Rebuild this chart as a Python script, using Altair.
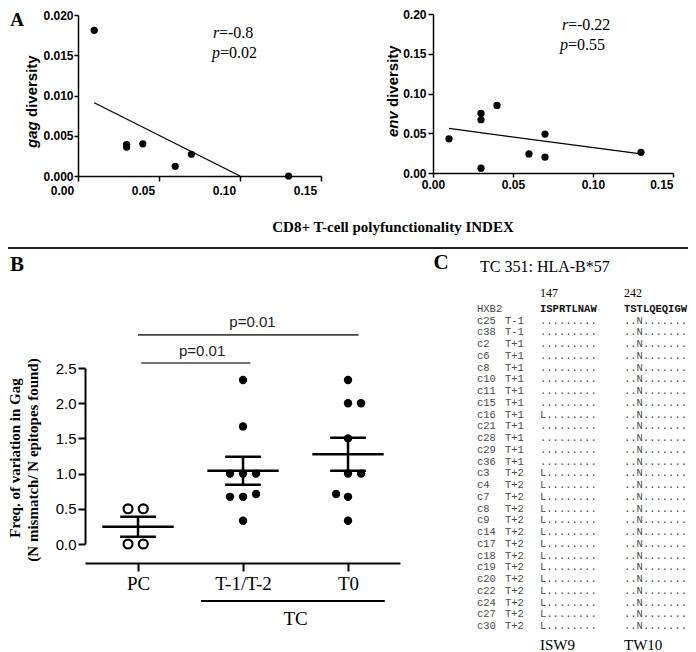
import altair as alt
import pandas as pd

# ================= data =================
# Panel A (left): gag diversity vs CD8+ T-cell polyfunctionality index
gag_index = [0.01, 0.03, 0.03, 0.04, 0.06, 0.07, 0.13]
gag_diversity = [0.0181, 0.0039, 0.0036, 0.0040, 0.0012, 0.0027, 0.0000]
gag_fit_index = [0.01, 0.10]
gag_fit_diversity = [0.0091, 0.0]
# Panel A (right): env diversity
env_index = [0.01, 0.03, 0.03, 0.03, 0.04, 0.06, 0.07, 0.07, 0.13]
env_diversity = [0.043, 0.075, 0.067, 0.006, 0.085, 0.024, 0.049, 0.020, 0.026]
env_fit_index = [0.01, 0.13]
env_fit_diversity = [0.056, 0.024]
index_ticks = [0.0, 0.05, 0.10, 0.15]
gag_ticks = [0.0, 0.005, 0.010, 0.015, 0.020]
env_ticks = [0.0, 0.05, 0.10, 0.15, 0.20]

# Panel B: frequency of variation in Gag
groups = ["PC", "T-1/T-2", "T0"]
pc_values = [0.5, 0.5, 0.0, 0.0]
pc_jitter = [-0.095, 0.05, -0.095, 0.05]
t12_values = [2.33, 1.67, 1.0, 1.0, 1.0, 0.67, 0.67, 0.71, 0.33]
t12_jitter = [0, 0, -0.124, 0, 0.124, -0.124, 0, 0.124, 0]
t0_values = [2.33, 2.0, 2.0, 1.5, 1.0, 1.0, 0.71, 0.67, 0.33]
t0_jitter = [0, 0, 0.124, 0, 0, 0.124, -0.114, 0, 0]
group_means = [0.245, 1.04, 1.275]
group_sems = [0.143, 0.20, 0.235]
b_ticks = [0.0, 0.5, 1.0, 1.5, 2.0, 2.5]
sig_from = [0.0, 0.03]
sig_to = [2.10, 1.07]
sig_level = [2.97, 2.57]
sig_label = ["p=0.01", "p=0.01"]
sig_label_x = [1.09, 0.61]
sig_label_y = [3.16, 2.74]
tc_from, tc_to, tc_level = [0.6], [2.35], [-0.81]
tc_label, tc_label_x, tc_label_y = ["TC"], [1.5], [-1.06]

# Panel C: alignment
hxb2 = ["HXB2", "ISPRTLNAW", "TSTLQEQIGW"]
clones = ["c25", "c38", "c2", "c6", "c8", "c10", "c11", "c15", "c16", "c21", "c28", "c29", "c36",
          "c3", "c4", "c7", "c8", "c9", "c14", "c17", "c18", "c19", "c20", "c22", "c24", "c27", "c30"]
visits = ["T-1"] * 2 + ["T+1"] * 11 + ["T+2"] * 14
isw9_seq = ["........."] * 8 + ["L........"] + ["........."] * 4 + ["L........"] * 14
tw10_seq = ["..N......."] * 27

# ================= layout helpers =================
W, H = 680, 644
M = 8  # page margin


def px(v):
    return v - M


def py(v):
    return v - M


SANS = "Liberation Sans"
SERIF = "Liberation Serif"
MONO = "Liberation Mono"


def make_axis(orient, offset, values, fmt, size, bold, tick, pad, width, font=SANS, **kw):
    return alt.Axis(orient=orient, offset=offset, values=values, format=fmt, title=None, grid=False,
                    domainColor="black", tickColor="black", labelColor="black",
                    domainWidth=width, tickWidth=width, tickSize=tick, labelPadding=pad,
                    labelFont=font, labelFontSize=size,
                    labelFontWeight="bold" if bold else "normal",
                    labelOverlap=False, labelFlush=False, **kw)


def txt(text, x, y, size, font=SERIF, weight="normal", style="normal", angle=0,
        align="center", color="black"):
    return alt.Chart(pd.DataFrame({"t": [text]})).mark_text(
        font=font, fontSize=size, fontWeight=weight, fontStyle=style, angle=angle,
        align=align, baseline="middle", color=color
    ).encode(text="t:N", x=alt.value(px(x)), y=alt.value(py(y)))


layers = []

# ================= Panel A left =================
sx1 = alt.Scale(domain=[0, 0.15], range=[px(78), px(321)], nice=False, zero=False)
sy1 = alt.Scale(domain=[0, 0.02], range=[py(176), py(15)], nice=False, zero=False)
ax1 = make_axis("bottom", py(176) - H, index_ticks, ".2f", 12, True, 5, 4, 1.5, labelOffset=-16)
ay1 = make_axis("left", -px(78), gag_ticks, ".3f", 12, True, 4, 1, 1.5)
gag_df = pd.DataFrame({"idx": gag_index, "div": gag_diversity})
gag_fit_df = pd.DataFrame({"idx": gag_fit_index, "div": gag_fit_diversity})
layers += [
    alt.Chart(gag_fit_df).mark_line(color="black", strokeWidth=1.3).encode(
        x=alt.X("idx:Q", scale=sx1, axis=None), y=alt.Y("div:Q", scale=sy1, axis=None)),
    alt.Chart(gag_df).mark_circle(size=52, color="black", opacity=1).encode(
        x=alt.X("idx:Q", scale=sx1, axis=ax1), y=alt.Y("div:Q", scale=sy1, axis=ay1)),
]

# ================= Panel A right =================
sx2 = alt.Scale(domain=[0, 0.15], range=[px(433), px(673)], nice=False, zero=False)
sy2 = alt.Scale(domain=[0, 0.2], range=[py(173), py(14)], nice=False, zero=False)
ax2 = make_axis("bottom", py(173) - H, index_ticks, ".2f", 12, True, 4, 2, 1.5,
                labelAlign={"condition": {"test": "datum.value >= 0.149", "value": "right"},
                            "value": "center"})
ay2 = make_axis("left", -px(433), env_ticks, ".2f", 12, True, 5, 2, 1.5)
env_df = pd.DataFrame({"idx": env_index, "div": env_diversity})
env_fit_df = pd.DataFrame({"idx": env_fit_index, "div": env_fit_diversity})
layers += [
    alt.Chart(env_fit_df).mark_line(color="black", strokeWidth=1.3).encode(
        x=alt.X("idx:Q", scale=sx2, axis=None), y=alt.Y("div:Q", scale=sy2, axis=None)),
    alt.Chart(env_df).mark_circle(size=52, color="black", opacity=1).encode(
        x=alt.X("idx:Q", scale=sx2, axis=ax2), y=alt.Y("div:Q", scale=sy2, axis=ay2)),
]

# ================= Panel B =================
sxb = alt.Scale(domain=[-0.505, 2.495], range=[px(85), px(400)], nice=False, zero=False)
syb = alt.Scale(domain=[0, 2.5], range=[py(544), py(368)], nice=False, zero=False)
label_expr = "[" + ",".join("'%s'" % g for g in groups) + "][datum.value]"
axb = make_axis("bottom", py(563) - H, [0, 1, 2], "d", 19, False, 8, 3, 2, font=SERIF,
                labelExpr=label_expr)
ayb = make_axis("left", -px(85), b_ticks, ".1f", 15, False, 7, 2, 2)

rows = []
for gi, (vals, jit) in enumerate([(pc_values, pc_jitter), (t12_values, t12_jitter),
                                  (t0_values, t0_jitter)]):
    for v, j in zip(vals, jit):
        rows.append({"g": gi, "pos": gi + j, "value": v})
b_pts = pd.DataFrame(rows)
b_stats = pd.DataFrame({"g": [0, 1, 2], "mean": group_means, "sem": group_sems})
sig_df = pd.DataFrame({"x1": sig_from, "x2": sig_to, "y": sig_level, "t": sig_label,
                       "tx": sig_label_x, "ty": sig_label_y})
tc_df = pd.DataFrame({"x1": tc_from, "x2": tc_to, "y": tc_level, "t": tc_label,
                      "tx": tc_label_x, "ty": tc_label_y})

stats = alt.Chart(b_stats).transform_calculate(
    m1="datum.g - 0.34", m2="datum.g + 0.34", c1="datum.g - 0.17", c2="datum.g + 0.17",
    lo="datum.mean - datum.sem", hi="datum.mean + datum.sem")

layers += [
    alt.Chart(b_pts).transform_filter("datum.g > 0").mark_point(
        filled=True, shape="circle", size=70, color="black", opacity=1).encode(
        x=alt.X("pos:Q", scale=sxb, axis=axb), y=alt.Y("value:Q", scale=syb, axis=ayb)),
    alt.Chart(b_pts).transform_filter("datum.g == 0").mark_point(
        filled=False, shape="circle", size=80, color="black", strokeWidth=2.2, opacity=1).encode(
        x=alt.X("pos:Q", scale=sxb, axis=None), y=alt.Y("value:Q", scale=syb, axis=None)),
    stats.mark_rule(strokeWidth=2.5, color="black").encode(
        x=alt.X("m1:Q", scale=sxb, axis=None), x2="m2:Q", y=alt.Y("mean:Q", scale=syb, axis=None)),
    stats.mark_rule(strokeWidth=2.5, color="black").encode(
        x=alt.X("c1:Q", scale=sxb, axis=None), x2="c2:Q", y=alt.Y("lo:Q", scale=syb, axis=None)),
    stats.mark_rule(strokeWidth=2.5, color="black").encode(
        x=alt.X("c1:Q", scale=sxb, axis=None), x2="c2:Q", y=alt.Y("hi:Q", scale=syb, axis=None)),
    stats.mark_rule(strokeWidth=2.5, color="black").encode(
        x=alt.X("g:Q", scale=sxb, axis=None), y=alt.Y("lo:Q", scale=syb, axis=None), y2="hi:Q"),
    alt.Chart(sig_df).mark_rule(strokeWidth=1.6, color="#444").encode(
        x=alt.X("x1:Q", scale=sxb, axis=None), x2="x2:Q", y=alt.Y("y:Q", scale=syb, axis=None)),
    alt.Chart(sig_df).mark_text(font=SANS, fontSize=15, color="#222", baseline="middle").encode(
        x=alt.X("tx:Q", scale=sxb, axis=None), y=alt.Y("ty:Q", scale=syb, axis=None), text="t:N"),
    alt.Chart(tc_df).mark_rule(strokeWidth=2, color="black").encode(
        x=alt.X("x1:Q", scale=sxb, axis=None), x2="x2:Q", y=alt.Y("y:Q", scale=syb, axis=None)),
    alt.Chart(tc_df).mark_text(font=SERIF, fontSize=19, color="black", baseline="middle").encode(
        x=alt.X("tx:Q", scale=sxb, axis=None), y=alt.Y("ty:Q", scale=syb, axis=None), text="t:N"),
]

# ================= Panel C =================
syc = alt.Scale(domain=[0, 27], range=[py(309), py(626)], nice=False, zero=False)
c_ref = pd.DataFrame({"row": [0], "clone": [hxb2[0]], "isw9": [hxb2[1]], "tw10": [hxb2[2]]})
c_rows = pd.DataFrame({"row": list(range(1, len(clones) + 1)), "clone": clones, "visit": visits,
                       "isw9": isw9_seq, "tw10": tw10_seq})


def ctext(df, field, x, bold=False, color="#4a4a4a"):
    return alt.Chart(df).mark_text(
        font=MONO, fontSize=10.5, fontWeight="bold" if bold else "normal",
        align="left", baseline="middle", color=color
    ).encode(x=alt.value(px(x)), y=alt.Y("row:Q", scale=syc, axis=None), text=f"{field}:N")


layers += [
    ctext(c_ref, "clone", 477),
    ctext(c_ref, "isw9", 540, bold=True, color="#111"),
    ctext(c_ref, "tw10", 624, bold=True, color="#111"),
    ctext(c_rows, "clone", 477),
    ctext(c_rows, "visit", 505),
    ctext(c_rows, "isw9", 540),
    ctext(c_rows, "tw10", 624),
]

# ================= annotations =================
separator = alt.Chart(pd.DataFrame({"k": [0]})).mark_rule(strokeWidth=2.2, color="#222").encode(
    x=alt.value(0), x2=alt.value(W), y=alt.value(py(248)))

layers += [
    separator,
    txt("A", 17, 20, 19, weight="bold"),
    txt("B", 17, 265, 21, weight="bold"),
    txt("C", 441, 263, 21, weight="bold"),
    txt("CD8+ T-cell polyfunctionality INDEX", 393, 227, 15, weight="bold"),
    txt("gag", 32, 148, 15, font=SANS, weight="bold", style="italic", angle=270, align="left"),
    txt("diversity", 32, 117, 15, font=SANS, weight="bold", angle=270, align="left"),
    txt("env", 393, 137, 15, font=SANS, weight="bold", style="italic", angle=270, align="left"),
    txt("diversity", 393, 107, 15, font=SANS, weight="bold", angle=270, align="left"),
    txt("r", 213, 33, 16, style="italic", align="left"),
    txt("=-0.8", 219, 33, 16, align="left"),
    txt("p", 212, 53, 16, style="italic", align="left"),
    txt("=0.02", 220, 53, 16, align="left"),
    txt("r", 562, 25, 16, style="italic", align="left"),
    txt("=-0.22", 568, 25, 16, align="left"),
    txt("p", 560, 45, 16, style="italic", align="left"),
    txt("=0.55", 568, 45, 16, align="left"),
    txt("Freq. of variation in Gag", 15, 458, 15, weight="bold", angle=270),
    txt("(N mismatch/ N epitopes found)", 33, 460, 15, weight="bold", angle=270),
    txt("TC 351: HLA-B*57", 480, 267, 16, align="left"),
    txt("147", 540, 293, 12, align="left"),
    txt("242", 624, 293, 12, align="left"),
    txt("ISW9", 540, 645, 15, align="left"),
    txt("TW10", 624, 645, 15, align="left"),
]

chart = alt.layer(*layers).resolve_scale(
    x="independent", y="independent"
).resolve_axis(
    x="independent", y="independent"
).properties(
    width=W, height=H, padding=0, autosize=alt.AutoSizeParams(type="none"),
    background="white"
).configure_view(stroke=None)

chart.save("out.html", embed_options={"renderer": "svg", "actions": False})
